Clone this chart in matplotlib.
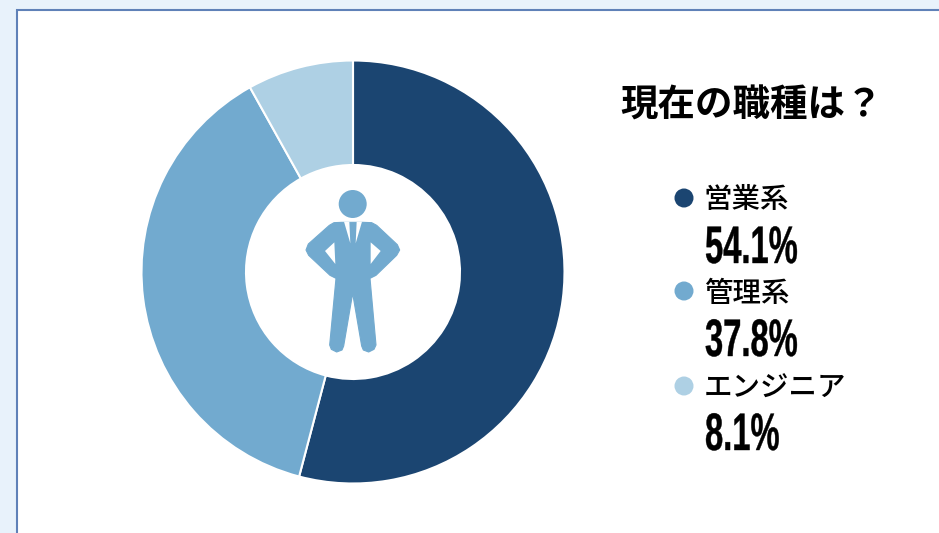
import matplotlib
matplotlib.use("Agg")
import matplotlib.pyplot as plt
import matplotlib.patheffects as pe
from matplotlib.patches import Circle, Polygon, Rectangle
from matplotlib.transforms import Affine2D

labels = ["営業系", "管理系", "エンジニア"]
shares = [54.1, 37.8, 8.1]
colors = ["#1b4571", "#72aacf", "#aed0e4"]
title = "現在の職種は？"

JP = ["Noto Sans CJK JP", "DejaVu Sans"]


class SqueezeX(pe.AbstractPathEffect):
    # narrow the glyphs around a pixel column, no condensed font is installed
    def __init__(self, x0, sx, stroke):
        super().__init__()
        self.x0 = x0
        self.sx = sx
        self.stroke = stroke

    def draw_path(self, renderer, gc, tpath, affine, rgbFace=None):
        squeeze = Affine2D().translate(-self.x0, 0).scale(self.sx, 1).translate(self.x0, 0)
        gc0 = renderer.new_gc()
        gc0.copy_properties(gc)
        gc0.set_foreground("black")
        gc0.set_linewidth(self.stroke)
        renderer.draw_path(gc0, tpath, affine + squeeze, rgbFace)
        gc0.restore()


fig = plt.figure(figsize=(9.39, 5.33), dpi=100, facecolor="#e8f2fb")
ax = fig.add_axes([0, 0, 1, 1])
ax.set_xlim(0, 939)
ax.set_ylim(533, 0)
ax.axis("off")

# panel, runs off the right and bottom edge
ax.add_patch(Rectangle((17, 9.5), 1000, 600, facecolor="white", edgecolor="#5f81b8", linewidth=1.5))

# donut, y axis is flipped so counterclock reads clockwise on screen
ax.pie(shares, colors=colors, startangle=270, counterclock=True, center=(353, 272), radius=211.5,
       wedgeprops=dict(width=104.5, edgecolor="white", linewidth=1.5), frame=True)
ax.set_xlim(0, 939)
ax.set_ylim(533, 0)
ax.set_aspect("auto")
ax.axis("off")

# person icon, outline traced in a 3x crop
icon_body = [(185, 157), (162, 158), (148, 166), (85, 222), (78, 240), (86, 256), (150, 316), (168, 325),
             (149, 525), (154, 538), (170, 546), (186, 540), (191, 528), (218, 370),
             (245, 528), (250, 540), (266, 546), (282, 538), (288, 525),
             (270, 325), (288, 316), (350, 256), (359, 240), (352, 224), (290, 166), (275, 158), (250, 157)]
icon_holes = [[(135, 243), (163, 217), (166, 282)],
              [(302, 243), (272, 217), (272, 282)],
              [(192, 155), (208, 155), (211, 220)],
              [(230, 155), (246, 155), (227, 220)]]


def icon_xy(pts):
    return [(280 + x / 3, 170 + y / 3) for x, y in pts]


ax.add_patch(Circle((352.7, 204), 14, facecolor=colors[1], edgecolor="none"))
ax.add_patch(Polygon(icon_xy(icon_body), closed=True, facecolor=colors[1], edgecolor=colors[1],
                     linewidth=0.8, joinstyle="round"))
for hole in icon_holes:
    ax.add_patch(Polygon(icon_xy(hole), closed=True, facecolor="white", edgecolor="none"))

ax.text(620, 105, title, family=JP, fontsize=27, fontweight="bold", color="black",
        ha="left", va="center")

# legend
label_y = [200, 293, 388]
value_y = [263, 356, 450]
for i in range(3):
    ax.add_patch(Circle((684, label_y[i] - 2), 9.5, facecolor=colors[i], edgecolor="none"))
    ax.text(704, label_y[i], labels[i], family=JP, fontsize=20.5, fontweight="medium", color="black",
            ha="left", va="center")
    ax.text(705, value_y[i], f"{shares[i]}%", family="Liberation Sans", fontsize=38, fontweight="bold",
            color="black", ha="left", va="baseline",
            path_effects=[SqueezeX(705, 0.62, 0.3)])

fig.savefig("out.png", dpi=100, facecolor=fig.get_facecolor())
